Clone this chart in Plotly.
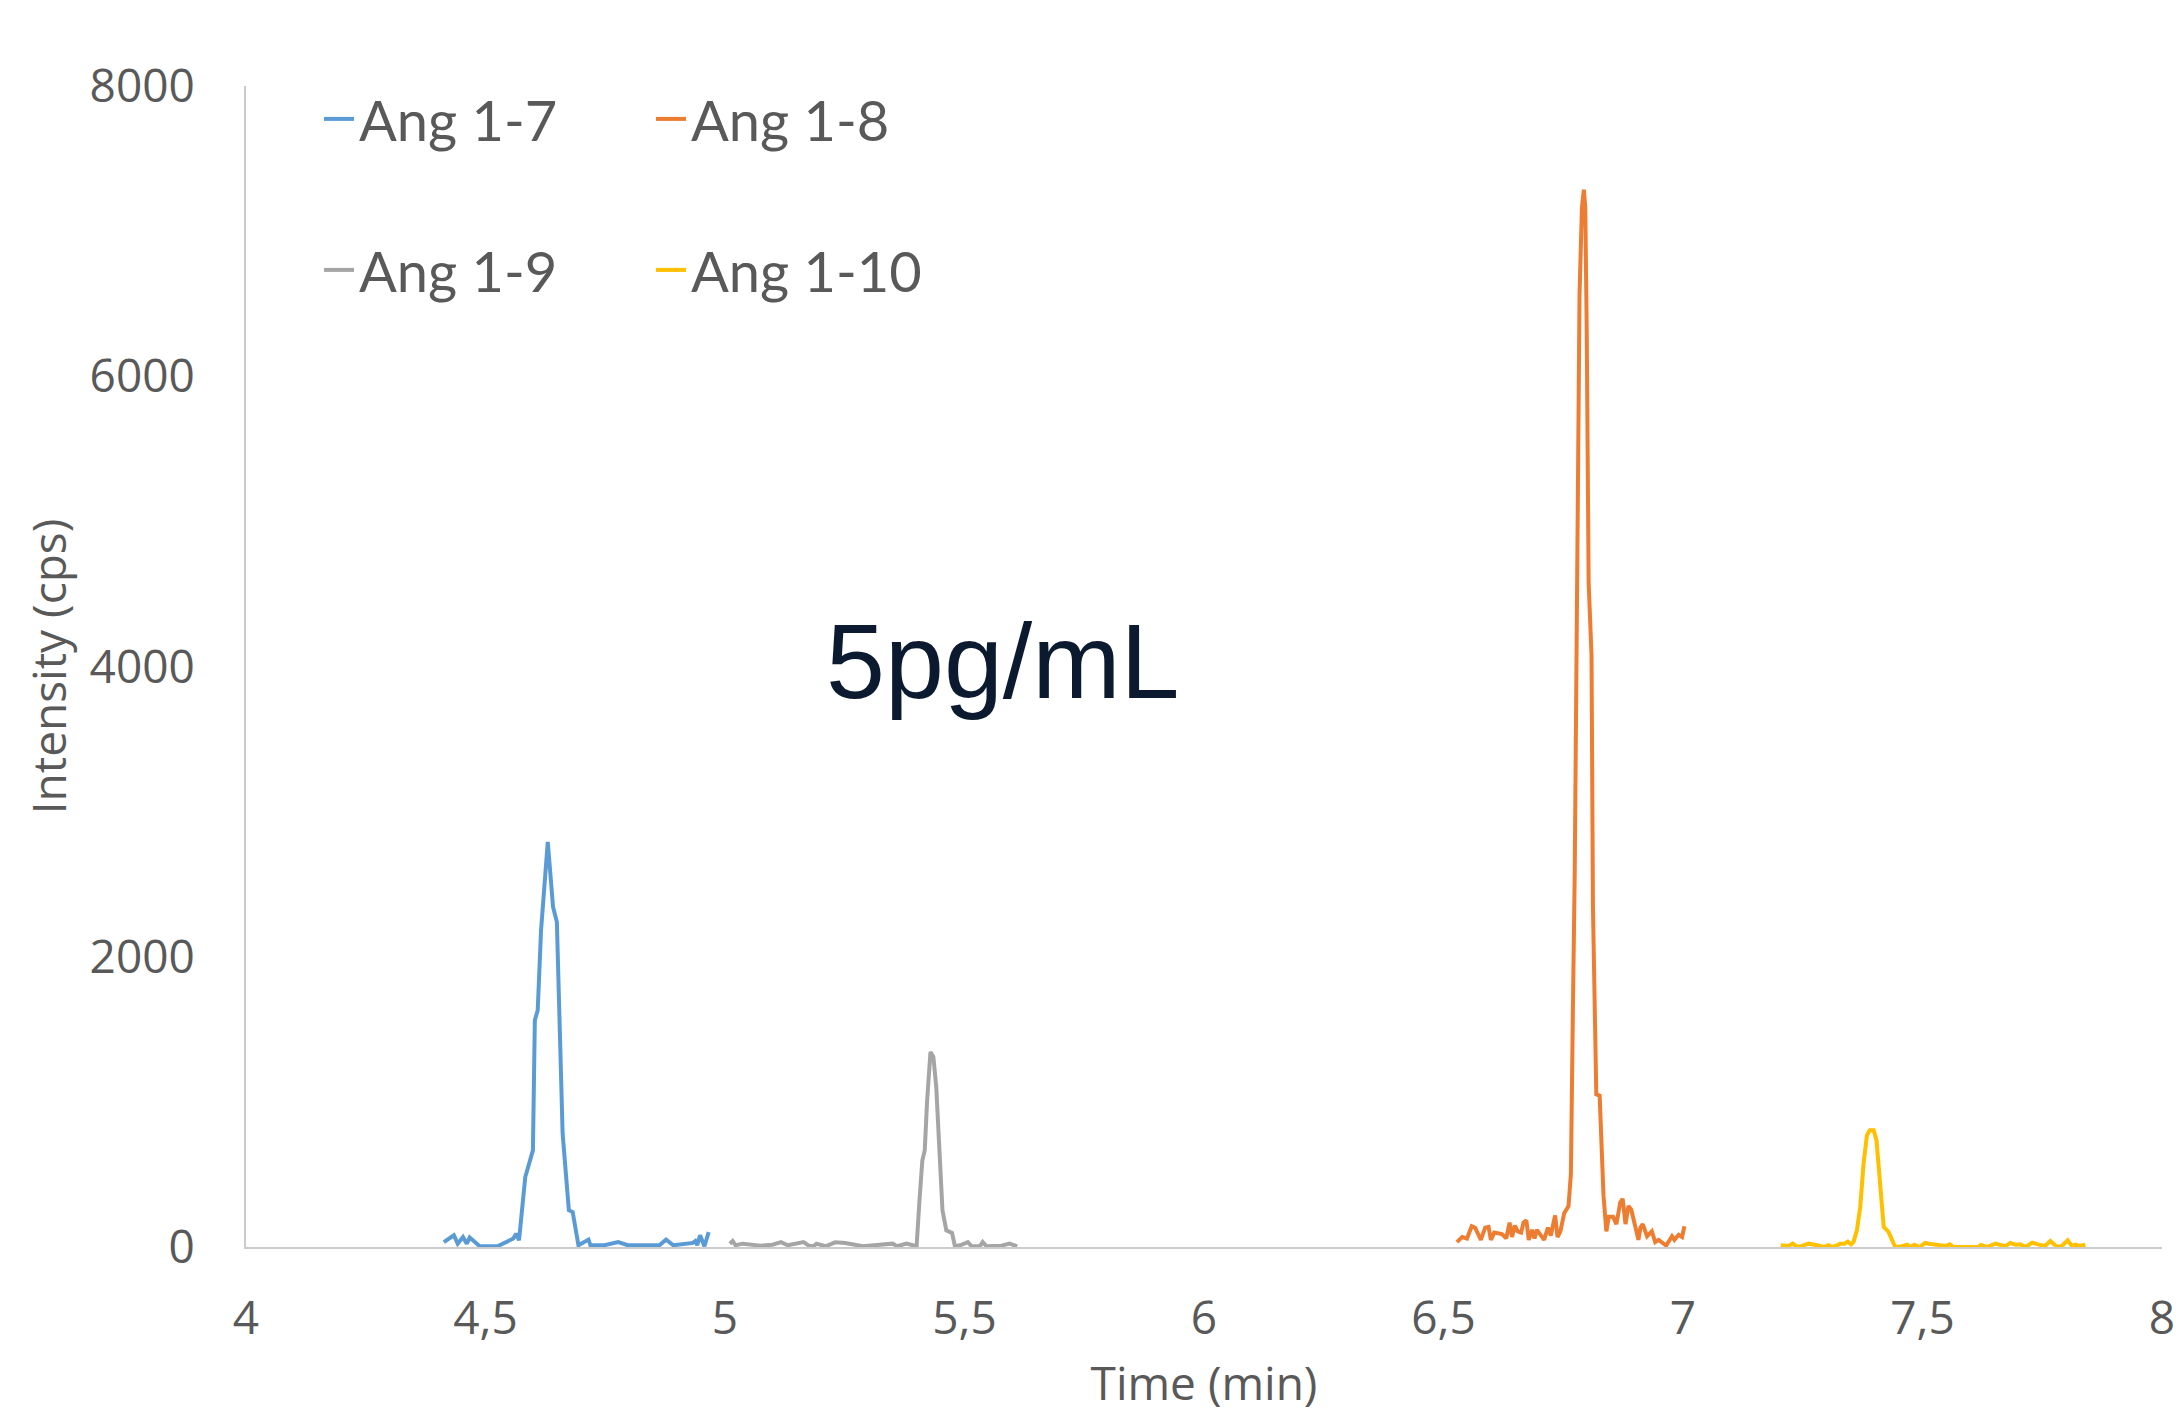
import plotly.graph_objects as go

# ---- data (time in min, intensity in cps) ----
ang17_t = [4.413, 4.434, 4.442, 4.453, 4.461, 4.467, 4.488, 4.525, 4.558, 4.564, 4.570, 4.583,
           4.599, 4.603, 4.609, 4.616, 4.630, 4.641, 4.649, 4.661, 4.674, 4.682, 4.694, 4.715,
           4.719, 4.748, 4.777, 4.797, 4.863, 4.877, 4.892, 4.913, 4.933, 4.938, 4.942, 4.948,
           4.957, 4.966]
ang17_i = [34, 81, 23, 69, 23, 65, 5, 5, 58, 92, 46, 482,
           666, 1562, 1631, 2183, 2791, 2343, 2240, 782, 253, 241, 12, 51,
           12, 12, 34, 12, 12, 51, 12, 23, 28, 41, 12, 81,
           5, 103]

ang18_t = [6.528, 6.539, 6.549, 6.559, 6.566, 6.578, 6.587, 6.594, 6.599, 6.606, 6.622, 6.631,
           6.638, 6.643, 6.649, 6.655, 6.662, 6.667, 6.673, 6.678, 6.685, 6.690, 6.695, 6.703,
           6.710, 6.718, 6.724, 6.733, 6.738, 6.744, 6.752, 6.761, 6.766, 6.770, 6.774, 6.779,
           6.784, 6.789, 6.793, 6.796, 6.799, 6.803, 6.809, 6.812, 6.817, 6.819, 6.826, 6.831,
           6.834, 6.840, 6.845, 6.854, 6.861, 6.869, 6.874, 6.880, 6.886, 6.892, 6.900, 6.907,
           6.911, 6.916, 6.925, 6.935, 6.942, 6.949, 6.965, 6.977, 6.982, 6.991, 6.998, 7.003]
ang18_i = [34, 69, 59, 143, 133, 49, 133, 138, 49, 99, 89, 59,
           168, 69, 148, 108, 99, 168, 183, 49, 118, 59, 118, 79,
           49, 133, 79, 218, 69, 108, 233, 282, 506, 1599, 2592, 4579,
           6566, 7162, 7286, 7162, 6317, 4579, 4082, 2344, 1102, 1052, 1043, 506,
           357, 108, 208, 208, 158, 307, 332, 158, 282, 257, 158, 49,
           133, 158, 74, 108, 34, 49, 10, 74, 49, 84, 69, 143]

ang19_t = [5.010, 5.016, 5.022, 5.037, 5.074, 5.099, 5.117, 5.131, 5.164, 5.175, 5.185, 5.191,
           5.210, 5.230, 5.251, 5.288, 5.350, 5.359, 5.379, 5.400, 5.406, 5.412, 5.417, 5.422,
           5.429, 5.435, 5.441, 5.447, 5.454, 5.462, 5.474, 5.480, 5.491, 5.507, 5.515, 5.532,
           5.538, 5.546, 5.577, 5.594, 5.610]
ang19_i = [23, 41, 12, 23, 9, 16, 34, 12, 34, 9, 5, 23,
           5, 32, 28, 5, 23, 5, 23, 5, 322, 598, 666, 1011,
           1344, 1310, 1103, 666, 253, 115, 97, 5, 12, 34, 5, 5,
           34, 5, 9, 23, 5]

ang110_t = [7.204, 7.220, 7.229, 7.239, 7.248, 7.262, 7.280, 7.294, 7.304, 7.311, 7.320, 7.328,
            7.337, 7.344, 7.351, 7.356, 7.363, 7.370, 7.377, 7.384, 7.390, 7.398, 7.404, 7.411,
            7.419, 7.429, 7.434, 7.443, 7.457, 7.468, 7.475, 7.483, 7.494, 7.506, 7.513, 7.523,
            7.537, 7.548, 7.557, 7.565, 7.617, 7.622, 7.635, 7.652, 7.673, 7.683, 7.694, 7.704,
            7.715, 7.729, 7.743, 7.756, 7.767, 7.781, 7.791, 7.803, 7.812, 7.819, 7.828, 7.840]
ang110_i = [12, 7, 23, 0, 7, 23, 12, 0, 12, 0, 9, 23,
            23, 37, 19, 35, 115, 276, 575, 770, 804, 804, 734, 483,
            138, 104, 69, 0, 5, 16, 0, 16, 0, 28, 23, 19,
            7, 7, 19, 0, 0, 14, 0, 23, 5, 28, 16, 19,
            0, 30, 16, 7, 41, 0, 7, 46, 7, 16, 7, 16]

series_names = ["Ang 1-7", "Ang 1-8", "Ang 1-9", "Ang 1-10"]
series_colors = ["#5B9BD5", "#ED7D31", "#A5A5A5", "#FFC000"]
x_tick_vals = [4, 4.5, 5, 5.5, 6, 6.5, 7, 7.5, 8]
y_tick_vals = [0, 2000, 4000, 6000, 8000]
x_title = "Time (min)"
y_title = "Intensity (cps)"
note_text = "5pg/mL"

W, H = 2176, 1413
L, R, T, B = 246, 14, 86, 166
TXT = "#595959"
AXC = "#CBCBCB"

fig = go.Figure()
data = [(ang17_t, ang17_i), (ang18_t, ang18_i), (ang19_t, ang19_i), (ang110_t, ang110_i)]
legend_ids = ["legend", "legend", "legend2", "legend2"]
for (t, v), name, col, lg in zip(data, series_names, series_colors, legend_ids):
    fig.add_trace(go.Scatter(x=t, y=v, mode="lines", name=name, legend=lg,
                             line=dict(color=col, width=4)))

leg_common = dict(orientation="h", xref="container", yref="container",
                  xanchor="left", yanchor="middle",
                  font=dict(family="Lato", size=56, color=TXT),
                  entrywidthmode="pixels", entrywidth=287,
                  bgcolor="rgba(0,0,0,0)", borderwidth=0, itemwidth=30)

fig.update_layout(
    width=W, height=H,
    margin=dict(l=L, r=R, t=T, b=B, autoexpand=False),
    paper_bgcolor="white", plot_bgcolor="white",
    separators=", ",
    showlegend=True,
    legend=dict(x=319 / W, y=1 - 119 / H, **leg_common),
    legend2=dict(x=319 / W, y=1 - 270 / H, **leg_common),
    xaxis=dict(range=[4, 8], tickvals=x_tick_vals, showgrid=False, zeroline=False,
               showline=True, linecolor=AXC, linewidth=2, ticks="",
               ticklabelstandoff=30,
               tickfont=dict(family="Open Sans", size=46, color=TXT),
               title=dict(text=x_title, standoff=31,
                          font=dict(family="Open Sans", size=46, color=TXT))),
    yaxis=dict(range=[0, 8000], tickvals=y_tick_vals, showgrid=False, zeroline=False,
               showline=True, linecolor=AXC, linewidth=2, ticks="",
               ticklabelstandoff=40,
               tickfont=dict(family="Open Sans", size=46, color=TXT),
               title=dict(text=y_title, standoff=8,
                          font=dict(family="Open Sans", size=46, color=TXT))),
    annotations=[dict(text=note_text, xref="paper", yref="paper",
                      x=(1003 - L) / (W - L - R), y=0.505,
                      xanchor="center", yanchor="middle", showarrow=False,
                      font=dict(family="Liberation Sans", size=106, color="#0B1A2E"))],
)

fig.write_html("out.html")
